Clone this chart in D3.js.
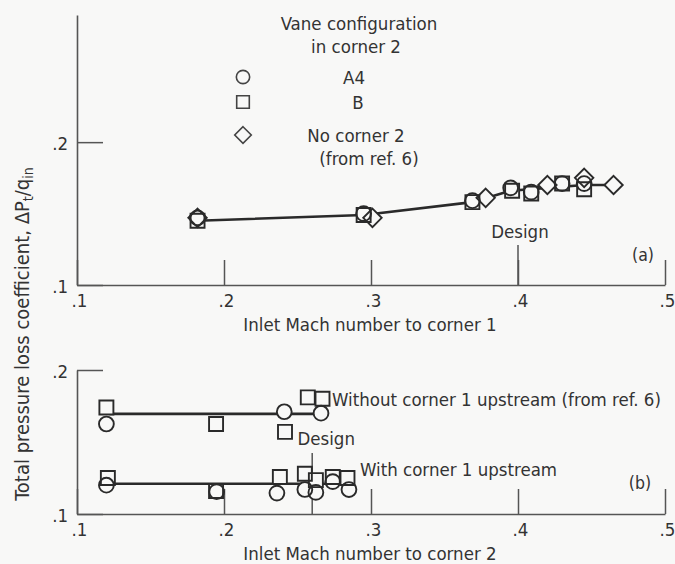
<!DOCTYPE html>
<html><head><meta charset="utf-8">
<script src="https://cdn.jsdelivr.net/npm/d3@7"></script>
<style>
html,body{margin:0;padding:0;background:#f8f8f7;}
svg text{font-family:"DejaVu Sans Condensed","Liberation Sans Narrow","Roboto Condensed",sans-serif;fill:#333;}
</style></head>
<body>
<svg id="c" width="675" height="564"></svg>
<script>
// ---------- data ----------
const xTicks = [0.1, 0.2, 0.3, 0.4, 0.5];
const yTicks = [0.1, 0.2];
const legendLabels = ["A4", "B", "No corner 2"];

// Panel (a): loss vs inlet Mach number to corner 1
const topA4 = [[0.182,0.147],[0.295,0.150],[0.369,0.159],[0.395,0.168],[0.409,0.165],[0.430,0.171],[0.445,0.171]];
const topB  = [[0.182,0.145],[0.295,0.149],[0.369,0.158],[0.396,0.166],[0.409,0.164],[0.430,0.171],[0.445,0.167]];
const topNo = [[0.182,0.147],[0.301,0.147],[0.378,0.161],[0.420,0.170],[0.445,0.175],[0.465,0.170]];
const topFair = [[0.182,0.145],[0.295,0.149],[0.369,0.158],[0.395,0.166],[0.420,0.168],[0.445,0.170],[0.465,0.170]];
const topDesign = 0.4;

// Panel (b): loss vs inlet Mach number to corner 2
const botWithoutA4 = [[0.120,0.1625],[0.241,0.171],[0.266,0.170]];
const botWithoutB  = [[0.120,0.174],[0.1946,0.1625],[0.2415,0.157],[0.257,0.181],[0.267,0.180]];
const botWithoutFair = [[0.122,0.1695],[0.265,0.1695]];
const botWithA4 = [[0.120,0.120],[0.195,0.1155],[0.236,0.1145],[0.255,0.117],[0.2625,0.115],[0.274,0.1225],[0.285,0.117]];
const botWithB  = [[0.121,0.125],[0.1946,0.116],[0.238,0.1257],[0.255,0.128],[0.2625,0.1235],[0.274,0.1257],[0.284,0.125]];
const botWithFair = [[0.124,0.121],[0.277,0.121]];
const botDesign = 0.26;

// ---------- drawing ----------
const BG = "#f8f8f7", INK = "#2a2a2a", AX = "#555";
const svg = d3.select("#c");
const FS = 18.5;

const x = d3.scaleLinear().domain([0.1,0.5]).range([77,665]);
const yTop = d3.scaleLinear().domain([0.1,0.289]).range([285,15]);
const yBot = d3.scaleLinear().domain([0.1,0.2]).range([514,370]);
const fmt = d => d3.format(".1f")(d).replace(/^0/,"");

function drawAxes(y, yBase, label, tag, design, designLen, designLabelY){
  const gx = svg.append("g").attr("transform",`translate(0,${yBase})`)
    .call(d3.axisBottom(x).tickValues(xTicks).tickFormat(fmt).tickSizeInner(-25).tickSizeOuter(0).tickPadding(9));
  gx.select(".domain").attr("stroke",AX).attr("stroke-width",1.6);
  gx.selectAll(".tick line").attr("stroke",AX).attr("stroke-width",1.5);
  gx.selectAll(".tick text").attr("font-size",FS).attr("fill","#333").attr("dx",2).attr("font-family",null);
  const gy = svg.append("g").attr("transform",`translate(${x(0.1)},0)`)
    .call(d3.axisLeft(y).tickValues(yTicks).tickFormat(fmt).tickSizeInner(-26).tickSizeOuter(0).tickPadding(9));
  gy.select(".domain").attr("stroke",AX).attr("stroke-width",1.6);
  gy.selectAll(".tick text").attr("font-size",FS).attr("fill","#333").attr("font-family",null).attr("dy","0.4em");
  gy.selectAll(".tick line").attr("stroke",AX).attr("stroke-width",1.5);
  svg.append("text").attr("x",370).attr("y",yBase+46).attr("text-anchor","middle").attr("font-size",FS).text(label);
  // design tick
  svg.append("line").attr("x1",x(design)).attr("x2",x(design)).attr("y1",yBase).attr("y2",yBase-designLen)
    .attr("stroke",AX).attr("stroke-width",1.5);
  svg.append("text").attr("x",tag==="(a)"?x(design)+2:x(design)+14).attr("y",designLabelY)
    .attr("text-anchor","middle").attr("font-size",FS).text("Design");
}

drawAxes(yTop, 285, "Inlet Mach number to corner 1", "(a)", topDesign, 40, 238);
drawAxes(yBot, 514, "Inlet Mach number to corner 2", "(b)", botDesign, 61, 445);
svg.append("text").attr("x",643).attr("y",261).attr("text-anchor","middle").attr("font-size",FS-1).text("(a)");
svg.append("text").attr("x",640).attr("y",489).attr("text-anchor","middle").attr("font-size",FS-1).text("(b)");

// y axis title
const yt = svg.append("text").attr("transform","translate(29,334) rotate(-90)")
  .attr("text-anchor","middle").attr("font-size",20);
yt.append("tspan").text("Total pressure loss coefficient, ΔP");
yt.append("tspan").attr("font-size",14).attr("dy",4).text("t");
yt.append("tspan").attr("dy",-4).text("/q");
yt.append("tspan").attr("font-size",14).attr("dy",4).text("in");

// markers
const R = 7.4, S = 14, D = 9.2;
function shapePath(kind, cx, cy, k){
  k = k||1;
  if(kind==="circle"){const r=R*k;return `M${cx-r},${cy}a${r},${r} 0 1,0 ${2*r},0a${r},${r} 0 1,0 ${-2*r},0Z`;}
  if(kind==="square"){const h=S*k/2;return `M${cx-h},${cy-h}H${cx+h}V${cy+h}H${cx-h}Z`;}
  const d=D*k;return `M${cx},${cy-d}L${cx+d},${cy}L${cx},${cy+d}L${cx-d},${cy}Z`;
}
const line = (xs, ys) => d3.line().x(d=>xs(d[0])).y(d=>ys(d[1]));

function drawLine(data, ys){
  svg.append("path").datum(data).attr("d",line(x,ys)).attr("fill","none").attr("stroke",INK).attr("stroke-width",2.6);
}
drawLine(topFair, yTop);
drawLine(botWithoutFair, yBot);
drawLine(botWithFair, yBot);

const sets = [
  [topA4,"circle",yTop],[topB,"square",yTop],[topNo,"diamond",yTop],
  [botWithoutA4,"circle",yBot],[botWithoutB,"square",yBot],
  [botWithA4,"circle",yBot],[botWithB,"square",yBot]
];
const fillLayer = svg.append("g"), strokeLayer = svg.append("g");
sets.forEach(([data,kind,ys])=>{
  fillLayer.selectAll(null).data(data).enter().append("path")
    .attr("d",d=>shapePath(kind,x(d[0]),ys(d[1]))).attr("fill",BG).attr("stroke","none");
  strokeLayer.selectAll(null).data(data).enter().append("path")
    .attr("d",d=>shapePath(kind,x(d[0]),ys(d[1]))).attr("fill","none").attr("stroke",INK).attr("stroke-width",1.9);
});

// legend
svg.append("text").attr("x",359).attr("y",30).attr("text-anchor","middle").attr("font-size",FS).text("Vane configuration");
svg.append("text").attr("x",356).attr("y",53).attr("text-anchor","middle").attr("font-size",FS).text("in corner 2");
const legKinds = ["circle","square","diamond"];
const legY = [77,102,135];
const legTextX = [354,358,356];
legKinds.forEach((k,i)=>{
  svg.append("path").attr("d",shapePath(k,243,legY[i],0.9)).attr("fill","none").attr("stroke","#444").attr("stroke-width",1.6);
  svg.append("text").attr("x",legTextX[i]).attr("y",legY[i]+7).attr("text-anchor","middle").attr("font-size",FS).text(legendLabels[i]);
});
svg.append("text").attr("x",369).attr("y",165).attr("text-anchor","middle").attr("font-size",FS).text("(from ref. 6)");

// panel (b) annotations
svg.append("text").attr("x",332).attr("y",406).attr("font-size",FS).text("Without corner 1 upstream (from ref. 6)");
svg.append("text").attr("x",360).attr("y",476).attr("font-size",FS).text("With corner 1 upstream");
</script>
</body></html>
